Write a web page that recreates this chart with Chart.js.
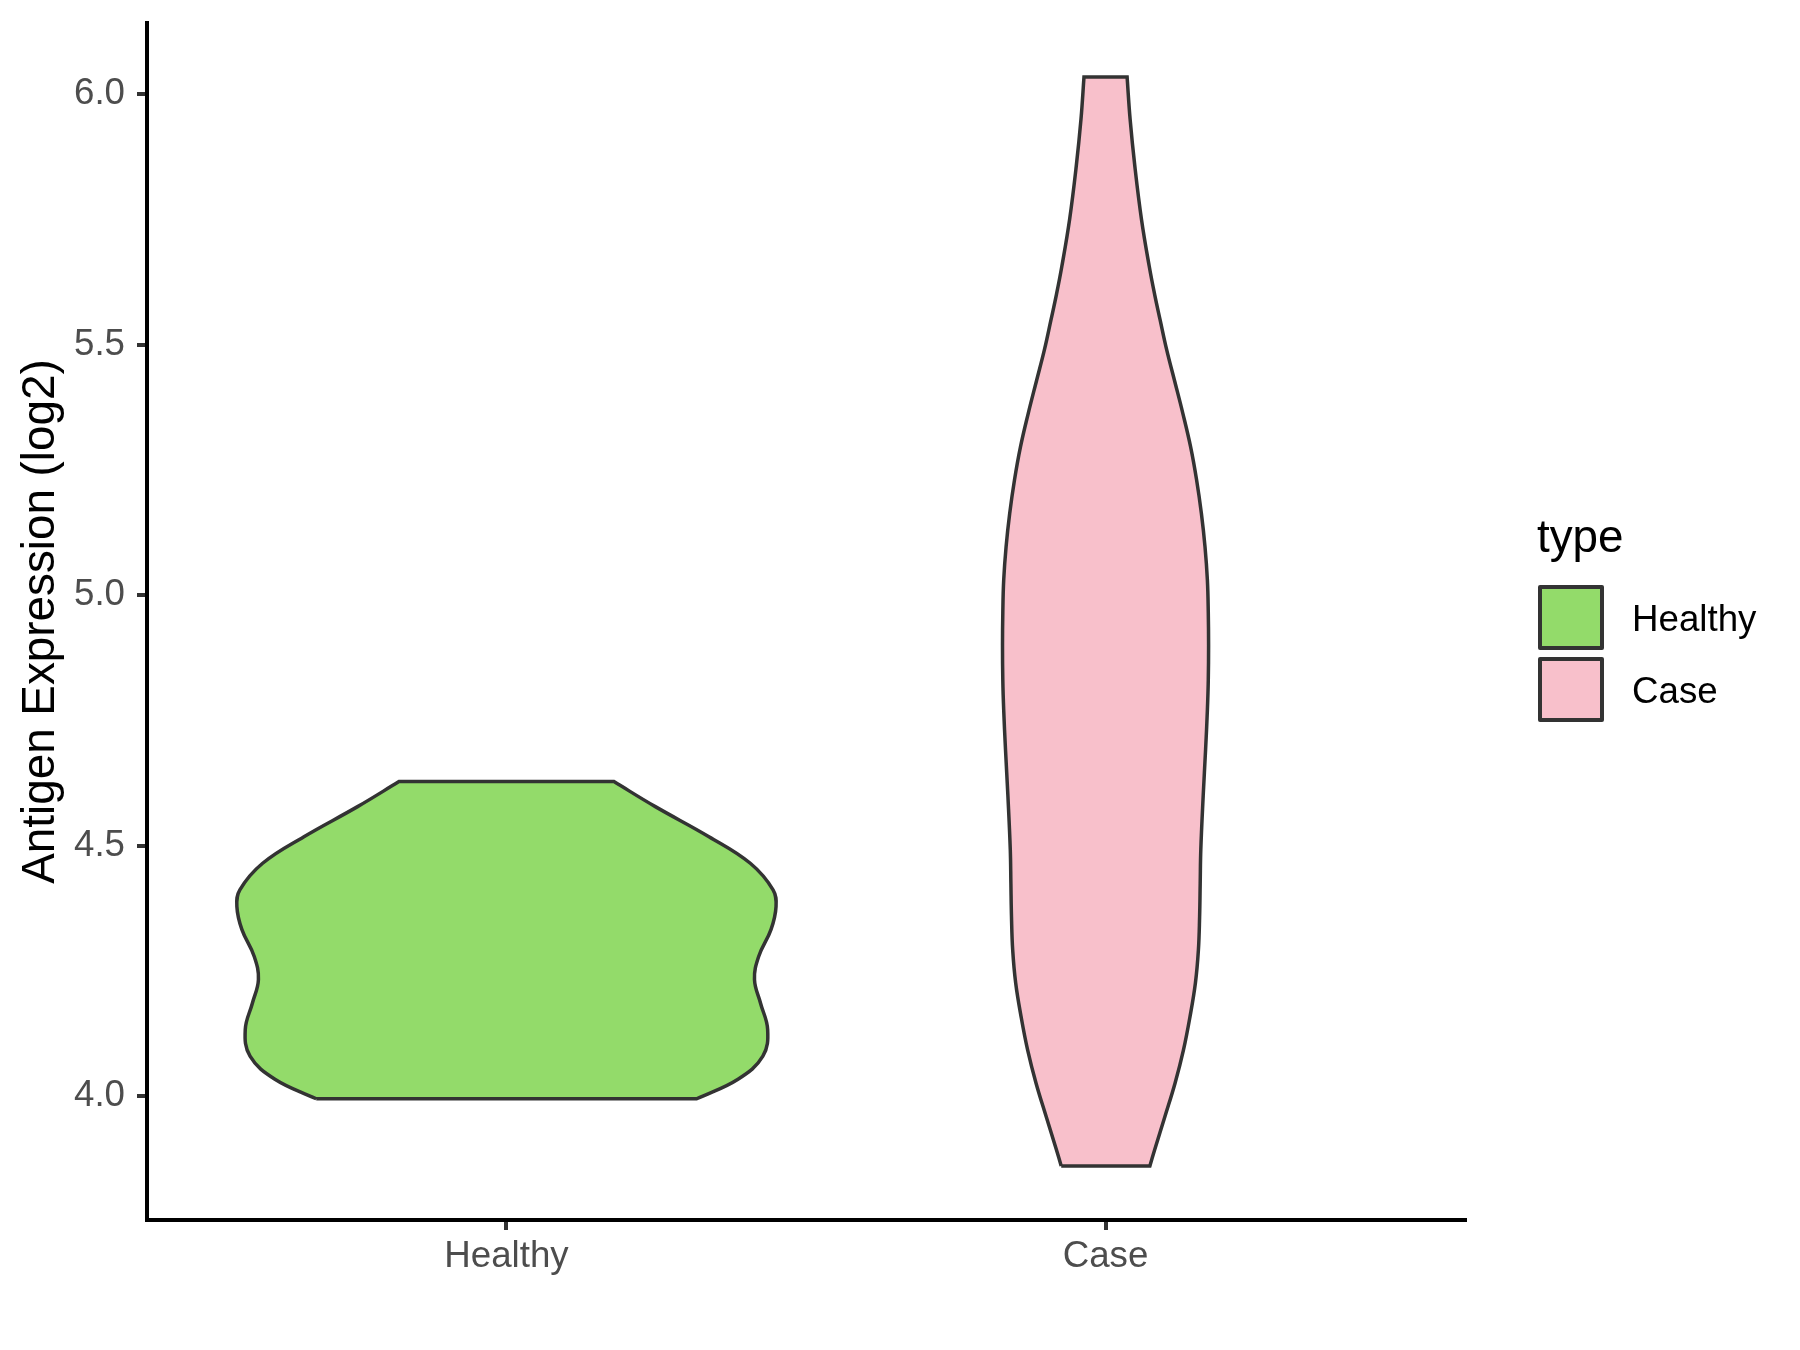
<!DOCTYPE html>
<html>
<head>
<meta charset="utf-8">
<title>Antigen Expression violin</title>
<script src="https://cdn.jsdelivr.net/npm/chart.js@4.4.1/dist/chart.umd.min.js"></script>
<style>
    body { margin: 0; background: #ffffff; }
    #wrap { position: relative; width: 1800px; height: 1350px; font-family: "Liberation Sans", Arial, sans-serif; }
    #violin { position: absolute; left: 0; top: 0; }
    .legend-title { position: absolute; left: 1537px; top: 514px; font-size: 45.8px; line-height: 1; color: #000; }
    .legend-key { position: absolute; left: 1538px; width: 66px; height: 65px; box-sizing: border-box; border: 4px solid #333333; border-radius: 2px; }
    .legend-label { position: absolute; left: 1632px; font-size: 36.7px; line-height: 1; color: #000; }
</style>
</head>
<body>
<div id="wrap">
    <canvas id="violin" width="1800" height="1350"></canvas>
    <div class="legend-title">type</div>
    <div class="legend-key" style="top:585px;background:#93DB6A"></div>
    <div class="legend-label" style="top:601px">Healthy</div>
    <div class="legend-key" style="top:657px;background:#F8C0CB"></div>
    <div class="legend-label" style="top:673px">Case</div>
</div>
<script>
// Categories et graduations
const categories = ['Healthy', 'Case'];
const yTicks = [4.0, 4.5, 5.0, 5.5, 6.0];

// Profil du violon "Healthy" : niveaux (log2) et demi-largeur (unites de categorie)
const healthyLevels = [3.995, 4.034, 4.080, 4.133, 4.186, 4.233, 4.279, 4.333, 4.379, 4.412, 4.465, 4.518, 4.578, 4.628];
const healthyHalfWidth = [0.3175, 0.3865, 0.428, 0.436, 0.424, 0.414, 0.421, 0.4417, 0.45, 0.445, 0.407, 0.338, 0.2485, 0.1794];

// Profil du violon "Case"
const caseLevels = [3.861, 3.893, 3.959, 4.026, 4.092, 4.159, 4.226, 4.292, 4.358, 4.425, 4.492, 4.60, 4.692, 4.771, 4.831, 4.90, 4.964, 5.030, 5.097, 5.163, 5.230, 5.296, 5.363, 5.429, 5.49, 5.55, 5.60, 5.656, 5.75, 5.855, 5.95, 6.034];
const caseHalfWidth = [0.074, 0.082, 0.099, 0.116, 0.130, 0.141, 0.150, 0.155, 0.157, 0.158, 0.159, 0.163, 0.167, 0.170, 0.1715, 0.172, 0.1715, 0.170, 0.166, 0.160, 0.152, 0.142, 0.129, 0.115, 0.102, 0.091, 0.082, 0.073, 0.060, 0.049, 0.041, 0.036];

const fillColors = ['#93DB6A', '#F8C0CB'];

/**
 * Contour ferme d'un violon : cote gauche de bas en haut, puis cote droit
 * de haut en bas. Les coins sont doubles pour garder les bords plats nets.
 */
function violinOutline(center, levels, half) {
    const n = levels.length;
    const pts = [];
    for (let i = 0; i < n; i++) {
        const p = { x: center - half[i], y: levels[i] };
        pts.push(p);
        if (i === 0 || i === n - 1) pts.push({ ...p });
    }
    for (let i = n - 1; i >= 0; i--) {
        const p = { x: center + half[i], y: levels[i] };
        pts.push(p);
        if (i === 0 || i === n - 1) pts.push({ ...p });
    }
    pts.push({ x: center - half[0], y: levels[0] });
    return pts;
}

const datasets = [
    { label: categories[0], data: violinOutline(1, healthyLevels, healthyHalfWidth) },
    { label: categories[1], data: violinOutline(2, caseLevels, caseHalfWidth) }
].map((ds, i) => ({
    ...ds,
    showLine: true,
    fill: 'shape',
    backgroundColor: fillColors[i],
    borderColor: '#333333',
    borderWidth: 3.5,
    tension: 0.4,
    pointRadius: 0,
    pointHoverRadius: 0
}));

const tickFont = { family: '"Liberation Sans", Arial, sans-serif', size: 36.7 };

new Chart(document.getElementById('violin'), {
    type: 'scatter',
    data: { datasets: datasets },
    options: {
        responsive: false,
        animation: false,
        devicePixelRatio: 1,
        layout: { padding: { left: 0, top: 23, right: 335, bottom: 0 } },
        plugins: {
            legend: { display: false },
            tooltip: { enabled: false }
        },
        scales: {
            x: {
                type: 'linear',
                min: 0.4,
                max: 2.6,
                afterBuildTicks: scale => { scale.ticks = categories.map((c, i) => ({ value: i + 1 })); },
                afterFit: scale => {
                    scale.height = 130;
                    scale.paddingLeft = 0;
                    scale.paddingRight = 0;
                },
                ticks: {
                    callback: v => categories[Math.round(v) - 1],
                    color: '#4D4D4D',
                    font: tickFont,
                    padding: 5,
                    maxRotation: 0
                },
                grid: { drawOnChartArea: false, tickLength: 10, color: '#333333', lineWidth: 4 },
                border: { color: '#000000', width: 4 }
            },
            y: {
                type: 'linear',
                min: 3.753,
                max: 6.142,
                afterBuildTicks: scale => { scale.ticks = yTicks.map(v => ({ value: v })); },
                afterFit: scale => {
                    scale.width = 147;
                    scale.paddingTop = 0;
                    scale.paddingBottom = 0;
                },
                ticks: {
                    callback: v => v.toFixed(1),
                    color: '#4D4D4D',
                    font: tickFont,
                    padding: 12
                },
                grid: { drawOnChartArea: false, tickLength: 10, color: '#333333', lineWidth: 4 },
                border: { color: '#000000', width: 4 },
                title: {
                    display: true,
                    text: 'Antigen Expression (log2)',
                    color: '#000000',
                    font: { family: '"Liberation Sans", Arial, sans-serif', size: 45.8, lineHeight: 1.2 },
                    padding: { top: 14, bottom: 0 }
                }
            }
        }
    }
});
</script>
</body>
</html>
